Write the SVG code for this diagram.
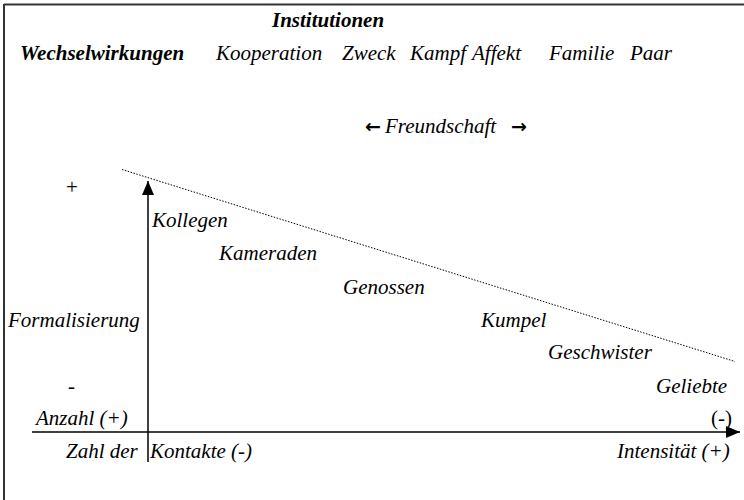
<svg xmlns="http://www.w3.org/2000/svg" width="744" height="500" viewBox="0 0 744 500">
<style>
.t{font-family:'Liberation Serif','Times New Roman',serif;font-size:21px;font-style:italic;fill:#000}
.b{font-weight:bold}
.n{font-style:normal}
.arr{font-family:'DejaVu Sans',sans-serif;font-size:19px;font-weight:bold;fill:#000}
.ax{stroke:#000;stroke-width:1.5;fill:none}
</style>
<defs>
<marker id="ah2" viewBox="0 0 14 12" refX="14" refY="6" markerWidth="14" markerHeight="12" markerUnits="userSpaceOnUse" orient="auto">
<path d="M0,0 L14,6 L0,12 z" fill="#000"/>
</marker>
</defs>
<g id="frame">
<line x1="4" y1="4.5" x2="744" y2="4.5" stroke="#333" stroke-width="2"/>
<line x1="4" y1="4" x2="4" y2="500" stroke="#333" stroke-width="2"/>
</g>
<g id="connectors">
<line class="ax" x1="148" y1="462" x2="148" y2="181" marker-end="url(#ah2)"/>
<line class="ax" x1="32" y1="432" x2="740" y2="432" marker-end="url(#ah2)"/>
<line x1="122" y1="169.5" x2="735" y2="361.5" stroke="#000" stroke-width="1" stroke-dasharray="1.5,1.5"/>
</g>
<g id="header">
<text class="t b" x="272" y="27">Institutionen</text>
<text class="t b" x="20" y="60">Wechselwirkungen</text>
<text class="t" x="216" y="60">Kooperation</text>
<text class="t" x="342" y="60">Zweck</text>
<text class="t" x="410" y="60">Kampf</text>
<text class="t" x="472" y="60">Affekt</text>
<text class="t" x="549" y="60">Familie</text>
<text class="t" x="630" y="60">Paar</text>
</g>
<g id="freundschaft">
<text class="arr" x="365" y="133">←</text>
<text class="t" x="385" y="133">Freundschaft</text>
<text class="arr" x="511" y="133">→</text>
</g>
<g id="labels">
<text class="t n" x="66" y="194">+</text>
<text class="t" x="152" y="227">Kollegen</text>
<text class="t" x="219" y="260">Kameraden</text>
<text class="t" x="343" y="294">Genossen</text>
<text class="t" x="8" y="327">Formalisierung</text>
<text class="t" x="481" y="327">Kumpel</text>
<text class="t" x="548" y="359">Geschwister</text>
<text class="t n" x="68" y="393">-</text>
<text class="t" x="656" y="393">Geliebte</text>
<text class="t" x="36" y="425">Anzahl (+)</text>
<text class="t n" x="711" y="425">(-)</text>
<text class="t" x="66" y="458">Zahl der</text>
<text class="t" x="150" y="458">Kontakte (-)</text>
<text class="t" x="617" y="458">Intensität (+)</text>
</g>
</svg>
